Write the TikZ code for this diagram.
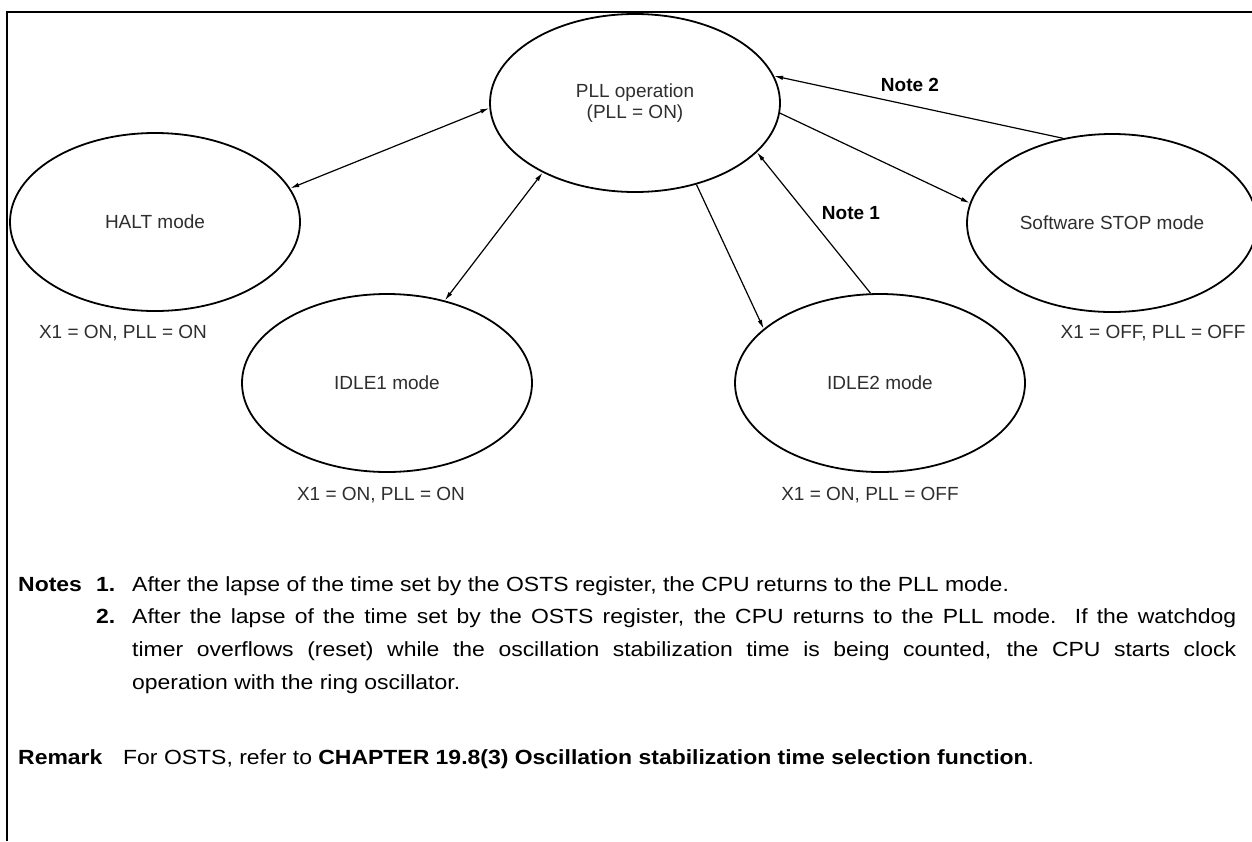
\documentclass[tikz,border=0pt]{standalone}
\usepackage{fontspec}
\setmainfont{Liberation Sans}
\newfontfamily\bodyfont[FakeStretch=1.12]{Liberation Sans}
\usetikzlibrary{shapes.geometric,arrows.meta}
\begin{document}
\begin{tikzpicture}[x=1pt,y=-1pt,
  state/.style={ellipse, draw, line width=1.8pt, minimum width=290pt, minimum height=178pt, inner sep=0pt, font=\fontsize{19}{23}\selectfont, text=black!82, align=center},
  lbl/.style={inner sep=0pt, font=\fontsize{19}{23}\selectfont, text=black!82},
  notelbl/.style={inner sep=0pt, font=\fontsize{19}{23}\selectfont\bfseries},
  conn/.style={line width=1.2pt, -{Latex[length=9pt,width=4.5pt]}},
  dconn/.style={line width=1.2pt, {Latex[length=9pt,width=4.5pt]}-{Latex[length=9pt,width=4.5pt]}},
  txt/.style={anchor=base west, inner sep=0pt, font=\bodyfont\fontsize{20.5}{24}\selectfont}
  ]
\useasboundingbox (0,0) rectangle (1252,841);
\draw[line width=2.2pt] (7,841) -- (7,12) -- (1252,12);

\node[state] (pll) at (635,103) {\raisebox{-3pt}{\shortstack{PLL operation\\[1pt](PLL = ON)}}};
\node[state] (halt) at (155,222) {HALT mode};
\node[state] (idle1) at (387,383) {IDLE1 mode};
\node[state] (idle2) at (880,383) {IDLE2 mode};
\node[state] (stop) at (1112,223) {Software STOP mode};

\node[lbl] (haltlbl) at (123,333) {X1 = ON, PLL = ON};
\node[lbl] (idle1lbl) at (381,495) {X1 = ON, PLL = ON};
\node[lbl] (idle2lbl) at (870,495) {X1 = ON, PLL = OFF};
\node[lbl] (stoplbl) at (1153,333) {X1 = OFF, PLL = OFF};

\node[notelbl] (note2) at (910,85) {Note 2};
\node[notelbl] (note1) at (851,213) {Note 1};

\draw[dconn] (halt.14) -- (pll.182);
\draw[dconn] (pll.217) -- (idle1.55);
\draw[conn] (pll.307) -- (idle2.155);
\draw[conn] (idle2.96) -- (pll.338);
\draw[conn] (pll.356) -- (stop.172);
\draw[conn] (stop.120) -- (pll.11);

\node[txt] (notes) at (18,591) {\bfseries Notes};
\node[txt] (n1) at (96,591) {\bfseries 1.};
\node[txt] (t1) at (132,591) {After the lapse of the time set by the OSTS register, the CPU returns to the PLL mode.};
\node[txt] (n2) at (96,623) {\bfseries 2.};
\node[txt] (t2a) at (132,623) {\makebox[1104pt][s]{After the lapse of the time set by the OSTS register, the CPU returns to the PLL mode.\ \ If the watchdog}};
\node[txt] (t2b) at (132,656) {\makebox[1104pt][s]{timer overflows (reset) while the oscillation stabilization time is being counted, the CPU starts clock}};
\node[txt] (t2c) at (132,689) {operation with the ring oscillator.};
\node[txt] (rem) at (18,764) {\bfseries Remark};
\node[txt] (remt) at (123,764) {For OSTS, refer to \textbf{CHAPTER 19.8(3) Oscillation stabilization time selection function}.};
\end{tikzpicture}
\end{document}
